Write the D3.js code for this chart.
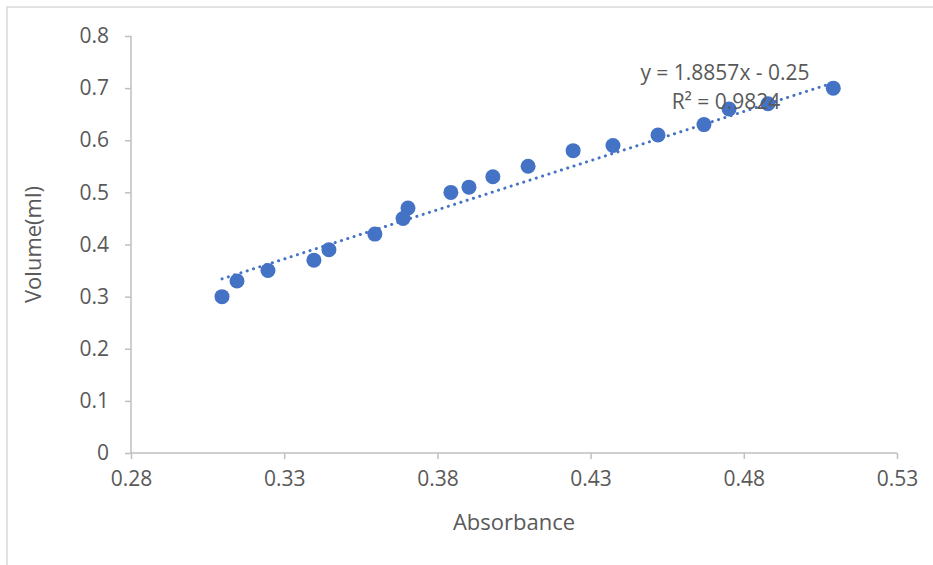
<!DOCTYPE html>
<html>
<head>
    <meta charset="utf-8">
    <title>Volume vs Absorbance</title>
    <script src="https://d3js.org/d3.v7.min.js"></script>
    <style>
        body { margin: 0; background: #fff; }
        text { font-family: "Open Sans", sans-serif; fill: #595959; }
        .axis path, .axis line { stroke: #bfbfbf; stroke-width: 1.5; }
        .axis text { font-size: 21px; fill: #595959; }
    </style>
</head>
<body>
    <script>
        // data
        var absorbance = [0.3097, 0.3146, 0.3247, 0.3397, 0.3446, 0.3596, 0.3688, 0.3704, 0.3844, 0.3903,
                          0.3981, 0.4096, 0.4243, 0.4373, 0.452, 0.467, 0.4752, 0.4879, 0.5092];
        var volume = [0.30, 0.33, 0.35, 0.37, 0.39, 0.42, 0.45, 0.47, 0.50, 0.51,
                      0.53, 0.55, 0.58, 0.59, 0.61, 0.63, 0.66, 0.67, 0.70];
        var xTicks = [0.28, 0.33, 0.38, 0.43, 0.48, 0.53];
        var yTicks = [0, 0.1, 0.2, 0.3, 0.4, 0.5, 0.6, 0.7, 0.8];
        var slope = 1.8857, intercept = -0.25;
        var eqLabel = "y = 1.8857x - 0.25";
        var r2Label = "R² = 0.9824";

        var width = 933, height = 565;
        var margin = {left: 131, right: 36, top: 36, bottom: 112};

        var svg = d3.select("body").append("svg")
            .attr("width", width)
            .attr("height", height);

        // chart frame (right and bottom edges cropped off)
        svg.append("rect")
            .attr("x", 7).attr("y", 7)
            .attr("width", width + 20).attr("height", height + 20)
            .attr("fill", "none")
            .attr("stroke", "#d9d9d9")
            .attr("stroke-width", 1.5);

        var x = d3.scaleLinear()
            .domain([0.28, 0.53])
            .range([margin.left, width - margin.right]);

        var y = d3.scaleLinear()
            .domain([0, 0.8])
            .range([height - margin.bottom, margin.top]);

        var xAxis = d3.axisBottom(x)
            .tickValues(xTicks)
            .tickFormat(d3.format(".2f"))
            .tickSizeInner(6).tickSizeOuter(6).tickPadding(12);

        var yAxis = d3.axisLeft(y)
            .tickValues(yTicks)
            .tickFormat(function(d) { return d === 0 ? "0" : d3.format(".1f")(d); })
            .tickSizeInner(6).tickSizeOuter(6).tickPadding(16);

        svg.append("g")
            .attr("class", "axis")
            .attr("transform", "translate(0," + y(0) + ")")
            .call(xAxis);

        svg.append("g")
            .attr("class", "axis")
            .attr("transform", "translate(" + x(0.28) + ",0)")
            .call(yAxis);

        svg.selectAll(".axis .domain").remove();
        svg.append("line")
            .attr("x1", x(0.28)).attr("x2", x(0.53))
            .attr("y1", y(0)).attr("y2", y(0))
            .attr("stroke", "#bfbfbf").attr("stroke-width", 1.5);
        svg.append("line")
            .attr("x1", x(0.28)).attr("x2", x(0.28))
            .attr("y1", y(0)).attr("y2", y(0.8))
            .attr("stroke", "#bfbfbf").attr("stroke-width", 1.5);

        // axis titles
        svg.append("text")
            .attr("x", (x(0.28) + x(0.53)) / 2)
            .attr("y", 530)
            .attr("text-anchor", "middle")
            .style("font-size", "22px")
            .text("Absorbance");

        svg.append("text")
            .attr("transform", "translate(41," + ((y(0) + y(0.8)) / 2) + ") rotate(-90)")
            .attr("text-anchor", "middle")
            .style("font-size", "22px")
            .text("Volume(ml)");

        // linear trendline (dotted)
        var xMin = d3.min(absorbance), xMax = d3.max(absorbance);
        svg.append("line")
            .attr("x1", x(xMin)).attr("y1", y(slope * xMin + intercept))
            .attr("x2", x(xMax)).attr("y2", y(slope * xMax + intercept))
            .attr("stroke", "#4472c4")
            .attr("stroke-width", 3)
            .attr("stroke-linecap", "round")
            .attr("stroke-dasharray", "0.1 6.5");

        // points
        svg.selectAll("circle.pt")
            .data(absorbance)
            .enter().append("circle")
            .attr("class", "pt")
            .attr("cx", function(d) { return x(d); })
            .attr("cy", function(d, i) { return y(volume[i]); })
            .attr("r", 7.5)
            .attr("fill", "#4472c4");

        // equation label
        svg.append("text")
            .attr("x", 725).attr("y", 80)
            .attr("text-anchor", "middle")
            .style("font-size", "21px")
            .text(eqLabel);
        svg.append("text")
            .attr("x", 726).attr("y", 109)
            .attr("text-anchor", "middle")
            .style("font-size", "21px")
            .text(r2Label);
    </script>
</body>
</html>
